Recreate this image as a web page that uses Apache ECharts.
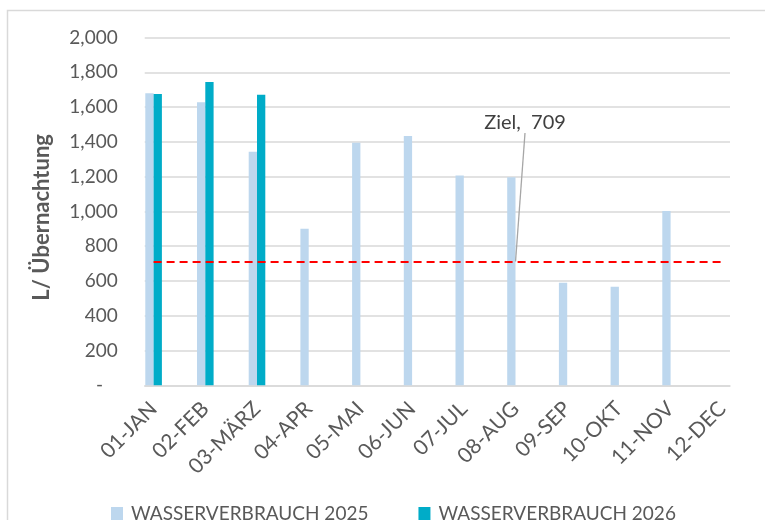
<!DOCTYPE html>
<html>
<head>
<meta charset="utf-8">
<script src="https://cdn.jsdelivr.net/npm/echarts@6/dist/echarts.min.js"></script>
<style>
html,body{margin:0;padding:0;background:#fff;}
#chart{width:765px;height:520px;}
</style>
</head>
<body>
<div id="chart"></div>
<script>
const categories = ['01-JAN','02-FEB','03-MÄRZ','04-APR','05-MAI','06-JUN','07-JUL','08-AUG','09-SEP','10-OKT','11-NOV','12-DEC'];
const water2025 = [1680, 1627, 1343, 900, 1395, 1434, 1207, 1196, 590, 567, 1002, null];
const water2026 = [1675, 1744, 1671, null, null, null, null, null, null, null, null, null];
const targetValues = [709, 709, 709, 709, 709, 709, 709, 709, 709, 709, 709, 709];
const targetLabelIndex = 7;
const targetLabelText = 'Ziel,  709';
const seriesNames = ['WASSERVERBRAUCH 2025', 'WASSERVERBRAUCH 2026'];
const yAxisTitle = 'L/ Übernachtung';
const yMin = 0, yMax = 2000, yStep = 200;

const FONT = 'Lato';
const TXT = '#595959';

const targetData = targetValues.map((v, i) => i === targetLabelIndex ? {
  value: v,
  label: { show: true, formatter: targetLabelText },
  labelLine: { show: true, lineStyle: { color: '#a6a6a6', width: 1.3 } }
} : v);

const chart = echarts.init(document.getElementById('chart'), null, { renderer: 'canvas' });
chart.setOption({
  animation: false,
  backgroundColor: '#fff',
  graphic: [{
    type: 'rect', z: -10,
    shape: { x: 7.5, y: 10.5, width: 800, height: 600 },
    style: { fill: 'none', stroke: '#d9d9d9', lineWidth: 1.5 }
  }],
  grid: [
    { left: 144.7, right: 35, top: 37.5, bottom: 134.7 },
    { left: 127.75, width: 620.4, top: 37.5, bottom: 134.7 }
  ],
  legend: {
    data: seriesNames,
    left: 106, top: 499,
    icon: 'rect', itemWidth: 12, itemHeight: 13, itemGap: 50,
    textStyle: { fontFamily: FONT, fontSize: 19, color: TXT, padding: [0, 0, 0, 3] }
  },
  xAxis: [
    {
      gridIndex: 0, type: 'category', data: categories,
      axisLine: { show: true, lineStyle: { color: '#d9d9d9', width: 1.5 } },
      axisTick: { show: false }, axisLabel: { show: false }, splitLine: { show: false }
    },
    {
      gridIndex: 1, type: 'category', data: categories,
      axisLine: { show: false }, axisTick: { show: false }, splitLine: { show: false },
      axisLabel: { interval: 0, rotate: 45, margin: 20, fontFamily: FONT, fontSize: 21, color: TXT }
    }
  ],
  yAxis: [
    {
      gridIndex: 0, type: 'value', min: yMin, max: yMax, interval: yStep,
      name: yAxisTitle, nameLocation: 'middle', nameRotate: 90, nameGap: 92,
      nameTextStyle: { fontFamily: FONT, fontSize: 22, fontWeight: 'bold', color: TXT, padding: [0, 12, 0, 0] },
      axisLine: { show: false }, axisTick: { show: false },
      splitLine: { show: true, lineStyle: { color: '#d9d9d9', width: 1.5 } },
      axisLabel: {
        margin: 27, fontFamily: FONT, fontSize: 19, color: TXT,
        formatter: v => v === 0 ? '-   ' : v.toLocaleString('en-US')
      }
    },
    {
      gridIndex: 1, type: 'value', min: yMin, max: yMax, interval: yStep, show: false,
      splitLine: { show: false }
    }
  ],
  series: [
    {
      name: seriesNames[0], type: 'bar', xAxisIndex: 1, yAxisIndex: 1,
      data: water2025, barWidth: 8.3, barGap: '0%',
      itemStyle: { color: '#bdd7ee' }
    },
    {
      name: seriesNames[1], type: 'bar', xAxisIndex: 1, yAxisIndex: 1,
      data: water2026, barWidth: 8.3, barGap: '0%',
      itemStyle: { color: '#00acc8' }
    },
    {
      name: 'Ziel', type: 'line', xAxisIndex: 1, yAxisIndex: 1,
      data: targetData, symbol: 'circle', symbolSize: 1, showSymbol: true,
      itemStyle: { color: 'rgba(0,0,0,0)' },
      lineStyle: { color: '#ff0000', width: 2, type: [8, 5] },
      label: { show: false, fontFamily: FONT, fontSize: 20, color: '#404040' },
      labelLayout: { x: 525, y: 123, align: 'center', verticalAlign: 'middle' },
      z: 5
    }
  ]
});
</script>
</body>
</html>
